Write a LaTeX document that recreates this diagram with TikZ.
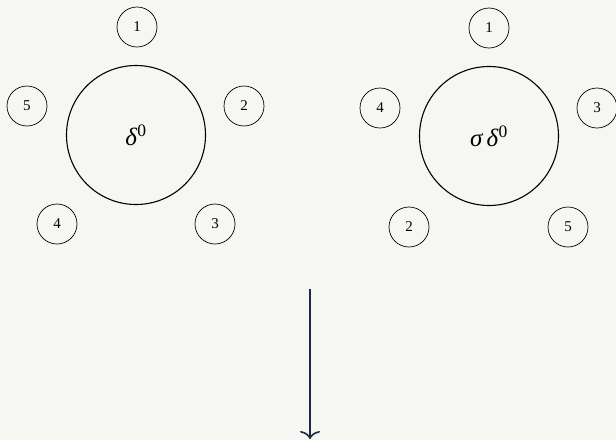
\documentclass[tikz,border=0pt]{standalone}
\usepackage{fontspec}
\setmainfont{Liberation Serif}
\usetikzlibrary{arrows.meta}
\definecolor{paperBg}{HTML}{F6F6F2}
\definecolor{arrowNavy}{HTML}{1E2847}

\begin{document}
\begin{tikzpicture}[x=1pt,y=-1pt,every node/.style={font=\fontsize{15}{17}\selectfont}]
      \tikzstyle{hub}=[draw,circle,line width=1.1pt,minimum size=139pt,inner sep=0pt,
                       font=\fontsize{25}{28}\selectfont]
      \tikzstyle{seat}=[draw,circle,line width=0.7pt,minimum size=40pt,inner sep=0pt]
      \fill[paperBg] (0,0) rectangle (616,440);
      \useasboundingbox (0,0) rectangle (616,440);
      % left configuration
      \node[hub] (d) at (136,135) {\textit{δ}\textsuperscript{0}};
      \node[seat] (l1) at (137,27) {1};
      \node[seat] (l2) at (244,106) {2};
      \node[seat] (l3) at (215,224) {3};
      \node[seat] (l4) at (57,224) {4};
      \node[seat] (l5) at (27,106) {5};
      % right configuration
      \node[hub] (sd) at (489,136) {\textit{σ\,δ}\textsuperscript{0}};
      \node[seat] (r1) at (489,28) {1};
      \node[seat] (r4) at (380,108) {4};
      \node[seat] (r3) at (597,108) {3};
      \node[seat] (r2) at (409,227) {2};
      \node[seat] (r5) at (568,227) {5};
      % map arrow
      \coordinate (top) at (310,289);
      \coordinate (bot) at (310,439);
      \draw[-{To[length=8pt,width=20pt]},arrowNavy,line width=1.6pt] (top)--(bot);
    \end{tikzpicture}
\end{document}
